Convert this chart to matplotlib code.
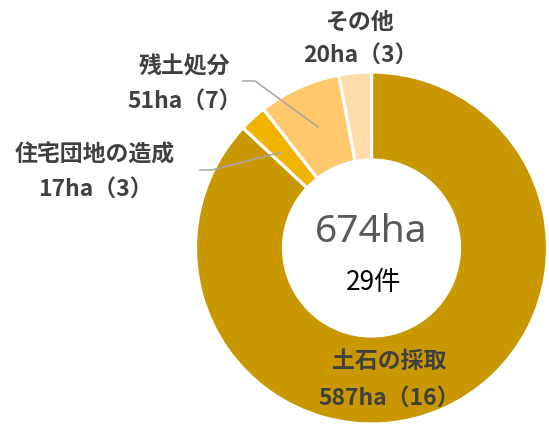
import matplotlib
matplotlib.use("Agg")
import matplotlib.pyplot as plt
import numpy as np

plt.rcParams['font.family'] = ['Noto Sans CJK JP', 'DejaVu Sans']

categories = ["土石の採取", "住宅団地の造成", "残土処分", "その他"]
areas = [587, 17, 51, 20]
counts = [16, 3, 7, 3]
colors = ["#C99700", "#EFB300", "#FFC86D", "#FFDBA9"]
total_area_label = "674ha"
total_count_label = "29件"

W, H = 549, 427
fig = plt.figure(figsize=(W / 100, H / 100), dpi=100)
ax = fig.add_axes([0, 0, 1, 1])
ax.set_xlim(0, W)
ax.set_ylim(0, H)
ax.set_aspect('equal')
ax.axis('off')

cx, cy, R = 371.5, H - 249, 176
wedges, _ = ax.pie(areas, colors=colors, startangle=90, counterclock=False,
                   center=(cx, cy), radius=R,
                   wedgeprops=dict(width=R * 0.5, edgecolor='white', linewidth=2.3))
ax.set_xlim(0, W)
ax.set_ylim(0, H)

lab_col = "#404040"
fs = 16.5
# label positions (pixel coords, y from top)
pos = {
    "土石の採取": (389, 362, 399),
    "住宅団地の造成": (95, 155, 190),
    "残土処分": (185, 67, 102),
    "その他": (360, 22, 56),
}
for cat, a, c in zip(categories, areas, counts):
    x, y1, y2 = pos[cat]
    ax.text(x, H - y1, cat, ha='center', va='center', fontsize=fs,
            fontweight='bold', color=lab_col)
    ax.text(x, H - y2, f"{a}ha（{c}）", ha='center', va='center', fontsize=fs,
            fontweight='bold', color=lab_col)

# leader lines
line_col = "#A6A6A6"
ax.plot([243, 255, 318], [H - 82, H - 82, H - 128], color=line_col, lw=1.1)
ax.plot([200, 212, 282], [H - 171, H - 171, H - 153], color=line_col, lw=1.1)

ax.text(cx, H - 232, total_area_label, ha='center', va='center', fontsize=28,
        color="#595959", family=['Noto Sans', 'DejaVu Sans'])
ax.text(cx + 2, H - 283, total_count_label, ha='center', va='center', fontsize=19,
        color="black")

fig.savefig("out.png", dpi=100)
